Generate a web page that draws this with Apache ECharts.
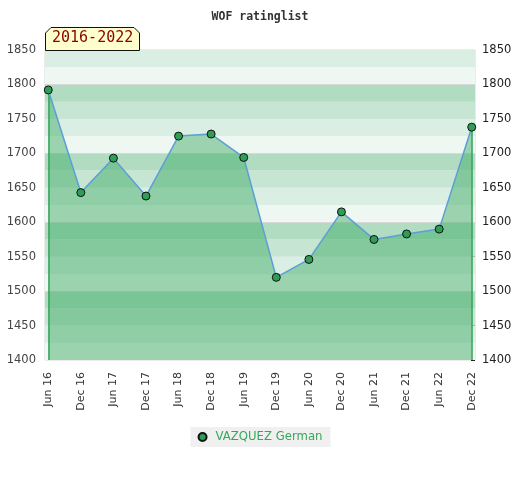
<!DOCTYPE html>
<html>
<head>
<meta charset="utf-8">
<script src="https://cdn.jsdelivr.net/npm/echarts@6/dist/echarts.min.js"></script>
<style>html,body{margin:0;padding:0;background:#fff}#c{width:520px;height:480px}</style>
</head>
<body>
<div id="c"></div>
<script>
var categories = ['Jun 16','Dec 16','Jun 17','Dec 17','Jun 18','Dec 18','Jun 19','Dec 19','Jun 20','Dec 20','Jun 21','Dec 21','Jun 22','Dec 22'];
var ratings = [1792, 1643, 1693, 1638, 1725, 1728, 1694, 1520, 1546, 1615, 1575, 1583, 1590, 1738];
var seriesName = 'VAZQUEZ German';
var yMin = 1400, yMax = 1850, yStep = 50;

var bandColors = ['#eff7f2', '#dbeee3', '#c6e5d2', '#b2dcc2']; // from bottom of each 100 block upwards
var bands = [];
for (var v = yMin; v < yMax; v += 25) {
  var idx = ((v - yMin) % 100) / 25;
  bands.push([{ yAxis: v, itemStyle: { color: bandColors[idx] } }, { yAxis: v + 25 }]);
}
var hundredLines = [];
for (var h = yMin + 100; h < yMax; h += 100) hundredLines.push({ yAxis: h });

var data = ratings.map(function (r, i) { return [i, r]; });
var last = ratings.length - 1;
function plain(v) { return String(v); }

var chart = echarts.init(document.getElementById('c'), null, { renderer: 'canvas' });
chart.setOption({
  animation: false,
  title: {
    text: 'WOF ratinglist', left: 'center', top: 6,
    textStyle: { fontFamily: 'DejaVu Sans Mono', fontSize: 11.5, fontWeight: 'bold', color: '#333' }
  },
  legend: {
    data: [{ name: seriesName, icon: 'circle' }],
    top: 427, left: 'center',
    backgroundColor: '#f0f0f0', padding: [4, 8, 4, 7],
    itemWidth: 8, itemHeight: 8, itemGap: 10,
    textStyle: { color: '#34a85a', fontFamily: 'DejaVu Sans', fontSize: 11.7, padding: [0, 0, 0, 4] }
  },
  grid: { left: 45, right: 45, top: 50, bottom: 120, show: true, borderColor: '#d8d8d8', borderWidth: 1, backgroundColor: 'transparent' },
  xAxis: {
    type: 'value', min: -0.1, max: last + 0.1,
    axisLine: { show: false }, axisTick: { show: false }, splitLine: { show: false },
    axisLabel: {
      customValues: categories.map(function (c, i) { return i; }),
      formatter: function (val) { return categories[Math.round(val)]; },
      rotate: 90, margin: 12, fontFamily: 'DejaVu Sans', fontSize: 11, color: '#333'
    }
  },
  yAxis: [{
    type: 'value', min: yMin, max: yMax, interval: yStep, position: 'left',
    axisLine: { show: false }, axisTick: { show: false }, splitLine: { show: false },
    axisLabel: { margin: 9, fontFamily: 'DejaVu Sans', fontSize: 11.5, color: '#444', formatter: plain }
  }, {
    type: 'value', min: yMin, max: yMax, interval: yStep, position: 'right',
    axisLine: { show: false },
    axisTick: { show: true, inside: true, length: 4, lineStyle: { color: '#222' } },
    minorTick: { show: true, splitNumber: 5, length: 3, lineStyle: { color: '#222' } },
    splitLine: { show: false },
    axisLabel: { margin: 7, fontFamily: 'DejaVu Sans', fontSize: 11.5, color: '#222', formatter: plain }
  }],
  series: [{
    name: 'bg', type: 'line', data: [], silent: true, z: 0,
    markArea: { silent: true, data: bands },
    markLine: { silent: true, symbol: 'none', label: { show: false }, lineStyle: { color: '#d8d8d8', type: 'solid', width: 1 }, data: hundredLines }
  }, {
    name: seriesName, type: 'line', data: data, z: 5,
    symbol: 'circle', symbolSize: 8,
    itemStyle: { color: '#2e9e55', borderColor: '#111', borderWidth: 1 },
    lineStyle: { color: '#5a9fd6', width: 1.5 },
    areaStyle: { color: 'rgba(61,172,100,0.48)', opacity: 1, origin: 'start' },
    markLine: {
      silent: true, symbol: 'none', label: { show: false },
      lineStyle: { color: '#2ea155', type: 'solid', width: 1.5 },
      data: [
        [{ coord: [0, ratings[0]] }, { coord: [0, yMin] }],
        [{ coord: [last, ratings[last]] }, { coord: [last, yMin] }]
      ]
    }
  }],
  graphic: [{
    type: 'polygon', z: 100,
    shape: { points: [[45.5, 50.5], [45.5, 33], [51, 27.5], [134, 27.5], [139.5, 33], [139.5, 50.5]] },
    style: { fill: '#ffffcc', stroke: '#111', lineWidth: 1 }
  }, {
    type: 'text', z: 101, left: 52, top: 31,
    style: { text: '2016-2022', fill: '#8b0000', font: '15px "DejaVu Sans Mono"' }
  }]
});
</script>
</body>
</html>
